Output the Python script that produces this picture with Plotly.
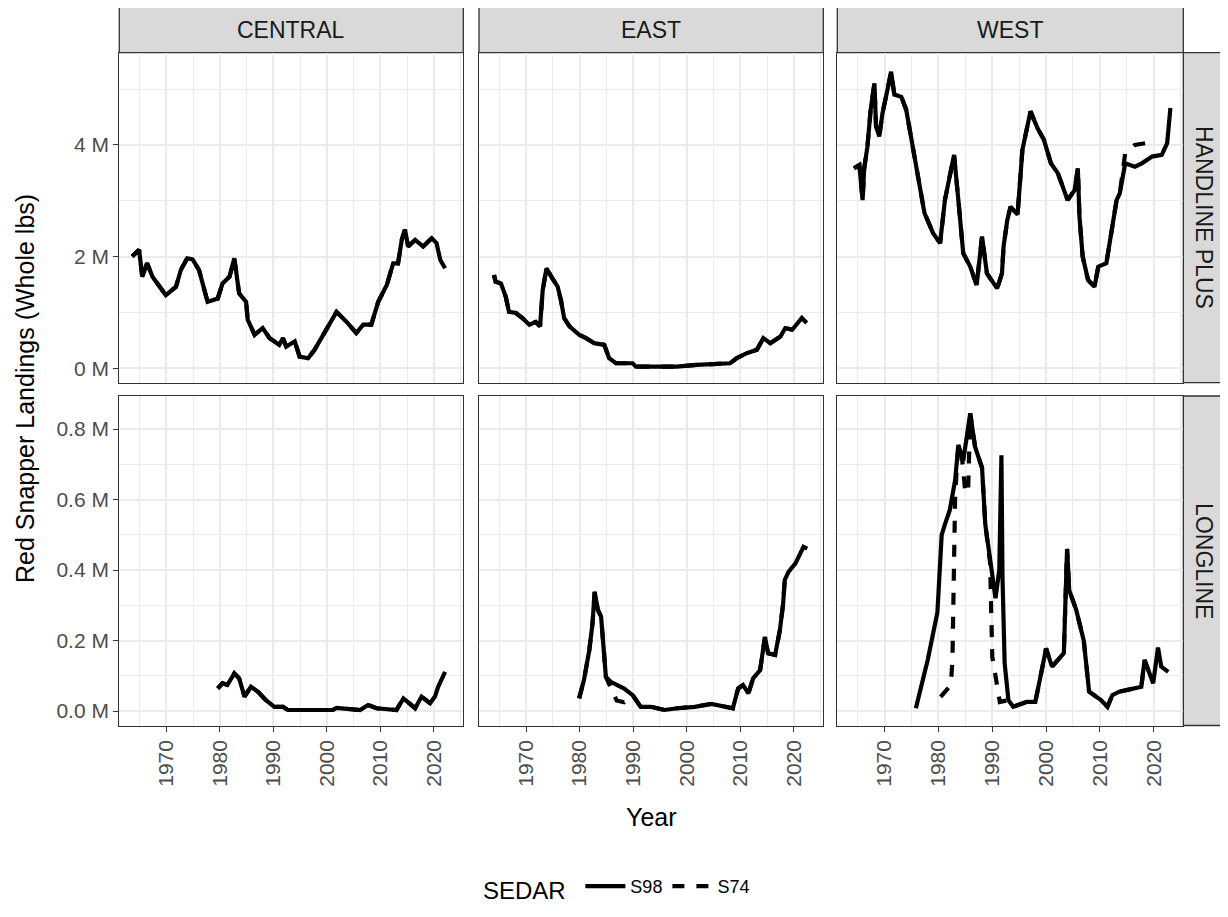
import plotly.graph_objects as go

# ---------------- data (values in millions of whole lbs) ----------------
central_hl_year = [1963.6, 1964.9, 1965.5, 1966.4, 1967.4, 1968.3, 1969.9, 1971.8, 1972.7, 1973.9, 1974.9, 1976.1,
                   1977.1, 1977.7, 1979.6, 1980.5, 1981.8, 1982.7, 1983.6, 1984.9, 1985.2, 1986.5, 1988.0, 1989.3,
                   1991.1, 1991.8, 1992.4, 1994.0, 1994.9, 1996.5, 1997.7, 1999.6, 2001.8, 2003.7, 2005.5, 2006.8,
                   2008.3, 2009.6, 2011.2, 2012.4, 2013.3, 2014.0, 2014.6, 2015.2, 2016.5, 2018.0, 2019.6, 2020.5,
                   2021.2, 2022.1]
central_hl_s98 = [2.00, 2.12, 1.64, 1.88, 1.64, 1.52, 1.31, 1.46, 1.76, 1.97, 1.95, 1.76,
                  1.40, 1.19, 1.25, 1.52, 1.64, 1.97, 1.34, 1.19, 0.87, 0.60, 0.72, 0.54,
                  0.42, 0.54, 0.39, 0.48, 0.21, 0.18, 0.33, 0.66, 1.01, 0.83, 0.63, 0.78,
                  0.78, 1.19, 1.49, 1.88, 1.88, 2.30, 2.48, 2.18, 2.30, 2.18, 2.33, 2.24,
                  1.94, 1.79]
central_hl_s74_year = central_hl_year[:47]
central_hl_s74 = central_hl_s98[:47]

east_hl_year = [1964.0, 1964.3, 1965.3, 1966.2, 1966.8, 1968.1, 1969.3, 1970.6, 1971.8, 1972.6, 1973.1, 1973.8,
                1974.9, 1975.9, 1976.5, 1977.1, 1978.1, 1979.9, 1981.2, 1982.7, 1984.6, 1985.5, 1986.8, 1989.9,
                1990.5, 1998.1, 2001.8, 2006.2, 2008.1, 2009.3, 2011.2, 2013.1, 2014.3, 2015.6, 2017.5, 2018.4,
                2019.7, 2021.5, 2022.4]
east_hl_s98 = [1.67, 1.55, 1.52, 1.28, 1.01, 0.99, 0.90, 0.78, 0.83, 0.75, 1.40, 1.79,
               1.61, 1.46, 1.22, 0.90, 0.75, 0.60, 0.54, 0.45, 0.42, 0.18, 0.09, 0.09,
               0.03, 0.03, 0.06, 0.09, 0.09, 0.18, 0.27, 0.33, 0.54, 0.45, 0.57, 0.72,
               0.69, 0.90, 0.81]
east_hl_s74_year = east_hl_year[:37]
east_hl_s74 = east_hl_s98[:37]

west_hl_year = [1964.3, 1965.3, 1965.9, 1966.2, 1966.8, 1967.4, 1968.1, 1968.4, 1969.0, 1969.6, 1970.6, 1971.2,
                1971.8, 1973.1, 1974.0, 1975.0, 1976.2, 1977.4, 1979.0, 1980.3, 1981.2, 1982.1, 1982.9, 1983.7,
                1984.6, 1985.9, 1987.1, 1988.1, 1989.0, 1990.9, 1991.8, 1992.1, 1992.8, 1993.4, 1994.7, 1995.6,
                1997.1, 1998.4, 1999.6, 2000.9, 2002.2, 2004.0, 2005.3, 2005.9, 2006.2, 2006.8, 2007.8, 2009.0,
                2009.7, 2011.2, 2012.2, 2013.1, 2013.7, 2014.7, 2016.5, 2017.8, 2019.7, 2021.5, 2022.5, 2023.1]
west_hl_s98 = [3.58, 3.64, 3.01, 3.58, 3.97, 4.63, 5.10, 4.33, 4.15, 4.57, 5.02, 5.31,
               4.90, 4.86, 4.63, 4.09, 3.37, 2.78, 2.42, 2.24, 3.01, 3.49, 3.82, 3.01,
               2.06, 1.82, 1.49, 2.36, 1.70, 1.43, 1.70, 2.18, 2.66, 2.89, 2.75, 3.91,
               4.60, 4.30, 4.09, 3.67, 3.49, 3.01, 3.19, 3.58, 2.72, 2.00, 1.58, 1.46,
               1.82, 1.88, 2.42, 3.01, 3.13, 3.67, 3.61, 3.67, 3.79, 3.82, 4.03, 4.66]
west_hl_s74_year = west_hl_year[:53] + [2014.7, 2016.5, 2018.5, 2020.0]
west_hl_s74 = west_hl_s98[:53] + [3.85, 4.00, 4.03, 4.00]

central_ll_year = [1979.6, 1980.5, 1981.4, 1982.7, 1983.6, 1984.6, 1985.8, 1987.1, 1988.6, 1990.2, 1991.8, 1992.7,
                   2001.1, 2001.8, 2006.2, 2007.7, 2009.3, 2013.0, 2014.3, 2016.5, 2017.7, 2019.3, 2020.2, 2020.8,
                   2022.1]
central_ll_s98 = [0.064, 0.079, 0.074, 0.107, 0.093, 0.041, 0.069, 0.055, 0.031, 0.012, 0.012, 0.003,
                  0.003, 0.009, 0.003, 0.017, 0.008, 0.003, 0.036, 0.008, 0.041, 0.022, 0.041, 0.069,
                  0.111]
central_ll_s74_year = central_ll_year[:22]
central_ll_s74 = central_ll_s98[:22]

east_ll_year = [1979.9, 1980.8, 1981.8, 1982.4, 1982.8, 1983.4, 1984.0, 1984.6, 1984.9, 1985.8, 1988.3, 1989.9,
                1991.4, 1993.3, 1995.8, 1998.3, 2001.5, 2004.6, 2007.1, 2008.6, 2009.6, 2010.5, 2011.5, 2012.4,
                2013.7, 2014.6, 2015.2, 2016.5, 2017.4, 2018.0, 2018.3, 2019.0, 2020.3, 2021.8, 2022.5]
east_ll_s98 = [0.036, 0.088, 0.173, 0.249, 0.338, 0.287, 0.268, 0.126, 0.097, 0.083, 0.064, 0.045,
               0.012, 0.012, 0.003, 0.008, 0.012, 0.020, 0.012, 0.008, 0.064, 0.074, 0.050, 0.093,
               0.116, 0.210, 0.164, 0.159, 0.230, 0.305, 0.372, 0.395, 0.419, 0.466, 0.461]
east_ll_s74_year = east_ll_year[:9] + [1986.9, 1988.3] + east_ll_year[11:32]
east_ll_s74 = east_ll_s98[:9] + [0.030, 0.025] + east_ll_s98[11:32]

west_ll_year = [1975.8, 1978.0, 1979.8, 1980.6, 1981.2, 1982.1, 1983.1, 1983.7, 1984.6, 1985.9, 1986.8, 1988.1,
                1988.7, 1989.6, 1990.6, 1991.3, 1991.7, 1991.9, 1992.3, 1993.0, 1993.9, 1996.4, 1998.0, 1999.2,
                2000.0, 2001.1, 2003.3, 2003.9, 2004.3, 2005.6, 2007.0, 2008.0, 2010.2, 2011.4, 2012.3, 2013.6,
                2015.8, 2017.7, 2018.3, 2019.2, 2019.9, 2020.8, 2021.4, 2022.7]
west_ll_s98 = [0.008, 0.145, 0.280, 0.500, 0.530, 0.570, 0.655, 0.755, 0.710, 0.845, 0.750, 0.690,
               0.530, 0.420, 0.320, 0.400, 0.726, 0.380, 0.136, 0.031, 0.012, 0.026, 0.026, 0.116,
               0.178, 0.126, 0.164, 0.460, 0.343, 0.287, 0.200, 0.055, 0.031, 0.012, 0.045, 0.055,
               0.064, 0.069, 0.145, 0.107, 0.079, 0.180, 0.126, 0.111]
west_ll_s74_year = [1980.4, 1982.3, 1982.6, 1982.9, 1983.1, 1983.4, 1983.7, 1984.3, 1985.0, 1985.5, 1985.9,
                    1986.8, 1988.1, 1988.7, 1989.6, 1990.0, 1990.8, 1991.4] + west_ll_year[19:41]
west_ll_s74 = [0.040, 0.074, 0.145, 0.430, 0.610, 0.690, 0.755, 0.730, 0.620, 0.620, 0.845,
               0.750, 0.690, 0.530, 0.420, 0.154, 0.074, 0.026] + west_ll_s98[19:41]

regions = ["CENTRAL", "EAST", "WEST"]
gears = ["HANDLINE PLUS", "LONGLINE"]
series_names = ["S98", "S74"]
year_ticks = [1970, 1980, 1990, 2000, 2010, 2020]
hl_ticks = [0, 2, 4]
hl_tick_text = ["0 M", "2 M", "4 M"]
ll_ticks = [0.0, 0.2, 0.4, 0.6, 0.8]
ll_tick_text = ["0.0 M", "0.2 M", "0.4 M", "0.6 M", "0.8 M"]

panels = [
    (central_hl_year, central_hl_s98, central_hl_s74_year, central_hl_s74),
    (east_hl_year, east_hl_s98, east_hl_s74_year, east_hl_s74),
    (west_hl_year, west_hl_s98, west_hl_s74_year, west_hl_s74),
    (central_ll_year, central_ll_s98, central_ll_s74_year, central_ll_s74),
    (east_ll_year, east_ll_s98, east_ll_s74_year, east_ll_s74),
    (west_ll_year, west_ll_s98, west_ll_s74_year, west_ll_s74),
]

# ---------------- layout geometry (screen pixels of the target) ----------------
OFF = 8  # page body margin
W, H = 1228 - OFF, 917 - OFF


def px(x):
    return (x - OFF) / W


def py(y):
    return 1 - (y - OFF) / H


col_px = [(119.3, 463.3), (479.0, 823.3), (837.3, 1183.3)]
row_px = [(52.7, 382.7), (396.0, 725.5)]
strip_top = 7.0
strip_right = 1226.0
FONT = "Liberation Sans, Arial, sans-serif"
GRID = "#EBEBEB"
BORDER = "#333333"
LW = 4.2

fig = go.Figure()
layout = {}
shapes = []
annotations = []

for i, (yr98, v98, yr74, v74) in enumerate(panels):
    r, c = divmod(i, 3)
    n = i + 1
    xa = "x" if n == 1 else f"x{n}"
    ya = "y" if n == 1 else f"y{n}"
    fig.add_trace(go.Scatter(x=yr98, y=v98, mode="lines", name=series_names[0],
                             line=dict(color="black", width=LW), legendgroup="S98",
                             showlegend=(i == 0), xaxis=xa, yaxis=ya, hoverinfo="skip"))
    fig.add_trace(go.Scatter(x=yr74, y=v74, mode="lines", name=series_names[1],
                             line=dict(color="black", width=LW, dash="12px,12px"), legendgroup="S74",
                             showlegend=(i == 0), xaxis=xa, yaxis=ya, hoverinfo="skip"))
    x0, x1 = col_px[c]
    y0, y1 = row_px[r]
    xkey = "xaxis" if n == 1 else f"xaxis{n}"
    ykey = "yaxis" if n == 1 else f"yaxis{n}"
    layout[xkey] = dict(
        domain=[px(x0), px(x1)], anchor=ya, range=[1961.2, 2025.5],
        tickvals=year_ticks, ticktext=[str(t) for t in year_ticks],
        showticklabels=(r == 1), ticks="outside" if r == 1 else "", ticklen=5,
        tickcolor=BORDER, tickwidth=1.2, tickangle=-90,
        tickfont=dict(family=FONT, size=21, color="#4D4D4D"),
        showgrid=True, gridcolor=GRID, gridwidth=1.5,
        minor=dict(tick0=1965, dtick=10, showgrid=True, gridcolor=GRID, gridwidth=1.0),
        showline=True, mirror=True, linecolor=BORDER, linewidth=1.3, zeroline=False,
    )
    if r == 0:
        yr, tv, tt, mt0, mdt = [-0.258, 5.65], hl_ticks, hl_tick_text, 1, 2
    else:
        yr, tv, tt, mt0, mdt = [-0.041, 0.894], ll_ticks, ll_tick_text, 0.1, 0.2
    layout[ykey] = dict(
        domain=[py(y1), py(y0)], anchor=xa, range=yr,
        tickvals=tv, ticktext=tt,
        showticklabels=(c == 0), ticks="outside" if c == 0 else "", ticklen=5,
        tickcolor=BORDER, tickwidth=1.2,
        tickfont=dict(family=FONT, size=21, color="#4D4D4D"),
        showgrid=True, gridcolor=GRID, gridwidth=1.5,
        minor=dict(tick0=mt0, dtick=mdt, showgrid=True, gridcolor=GRID, gridwidth=1.0),
        showline=True, mirror=True, linecolor=BORDER, linewidth=1.3, zeroline=False,
    )

# top strips
for c, name in enumerate(regions):
    x0, x1 = col_px[c]
    shapes.append(dict(type="rect", xref="paper", yref="paper", x0=px(x0), x1=px(x1),
                       y0=py(row_px[0][0]), y1=py(strip_top),
                       fillcolor="#D9D9D9", line=dict(color=BORDER, width=1.3), layer="below"))
    annotations.append(dict(xref="paper", yref="paper", x=px((x0 + x1) / 2),
                            y=py((strip_top + row_px[0][0]) / 2), text=name, showarrow=False,
                            font=dict(family=FONT, size=23, color="#1A1A1A"),
                            xanchor="center", yanchor="middle"))
# right strips
for r, name in enumerate(gears):
    y0, y1 = row_px[r]
    shapes.append(dict(type="rect", xref="paper", yref="paper", x0=px(col_px[2][1]), x1=px(strip_right),
                       y0=py(y1), y1=py(y0),
                       fillcolor="#D9D9D9", line=dict(color=BORDER, width=1.3), layer="below"))
    annotations.append(dict(xref="paper", yref="paper", x=px((col_px[2][1] + strip_right) / 2),
                            y=py((y0 + y1) / 2), text=name, showarrow=False, textangle=90,
                            font=dict(family=FONT, size=23, color="#1A1A1A"),
                            xanchor="center", yanchor="middle"))

# axis titles
annotations.append(dict(xref="paper", yref="paper", x=px(25), y=py(389),
                        text="Red Snapper Landings (Whole lbs)", showarrow=False, textangle=-90,
                        font=dict(family=FONT, size=25, color="black"),
                        xanchor="center", yanchor="middle"))
annotations.append(dict(xref="paper", yref="paper", x=px(651), y=py(817),
                        text="Year", showarrow=False,
                        font=dict(family=FONT, size=25, color="black"),
                        xanchor="center", yanchor="middle"))

fig.update_layout(
    width=W, height=H,
    margin=dict(l=0, r=0, t=0, b=0),
    paper_bgcolor="white", plot_bgcolor="white",
    shapes=shapes, annotations=annotations,
    showlegend=True,
    legend=dict(orientation="h", x=px(618), xanchor="center", y=py(889), yanchor="middle",
                title=dict(text="SEDAR ", side="left", font=dict(family=FONT, size=24, color="black")),
                font=dict(family=FONT, size=18, color="black"), itemwidth=40,
                bgcolor="rgba(0,0,0,0)"),
    **layout,
)

fig.write_html("out.html")
